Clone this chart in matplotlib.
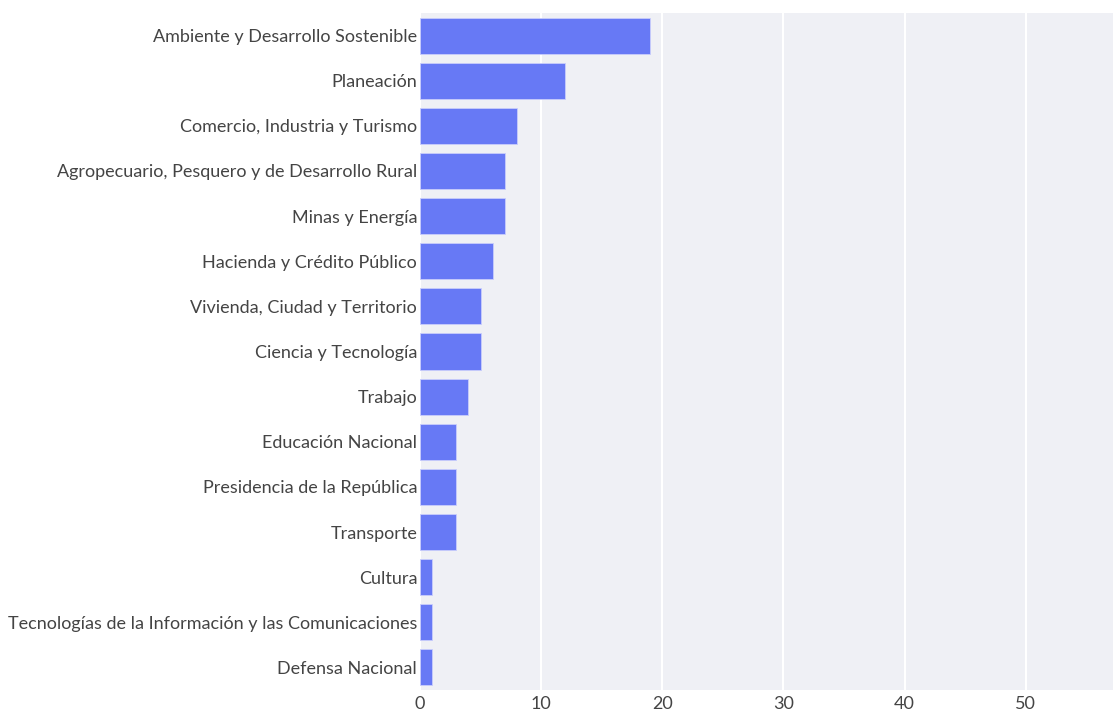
import matplotlib.pyplot as plt

# Datos (orden de arriba hacia abajo)
sectores = [
    "Ambiente y Desarrollo Sostenible",
    "Planeación",
    "Comercio, Industria y Turismo",
    "Agropecuario, Pesquero y de Desarrollo Rural",
    "Minas y Energía",
    "Hacienda y Crédito Público",
    "Vivienda, Ciudad y Territorio",
    "Ciencia y Tecnología",
    "Trabajo",
    "Educación Nacional",
    "Presidencia de la República",
    "Transporte",
    "Cultura",
    "Tecnologías de la Información y las Comunicaciones",
    "Defensa Nacional",
]
conteos = [19, 12, 8, 7, 7, 6, 5, 5, 4, 3, 3, 3, 1, 1, 1]
ticks_x = [0, 10, 20, 30, 40, 50]

plt.rcParams['font.family'] = ['Lato', 'DejaVu Sans']

fig = plt.figure(figsize=(11.13, 7.12), dpi=100)
ax = fig.add_axes([420 / 1113, 22 / 712, 693 / 1113, 677 / 712])

ax.set_facecolor('#eff0f5')
ax.barh(sectores, conteos, height=0.8, color='#6779f5', edgecolor='#c9cdfc', linewidth=0.6, zorder=3)
ax.set_ylim(len(sectores) - 0.5, -0.5)
ax.set_xlim(0, 57.2)
ax.set_xticks(ticks_x)
ax.grid(axis='x', color='white', linewidth=1.5, zorder=1)
for s in ax.spines.values():
    s.set_visible(False)
ax.tick_params(length=0, labelsize=13, labelcolor='#444444', pad=2)
ax.tick_params(axis='x', pad=4)

fig.savefig('out.png', dpi=100, facecolor='white')
